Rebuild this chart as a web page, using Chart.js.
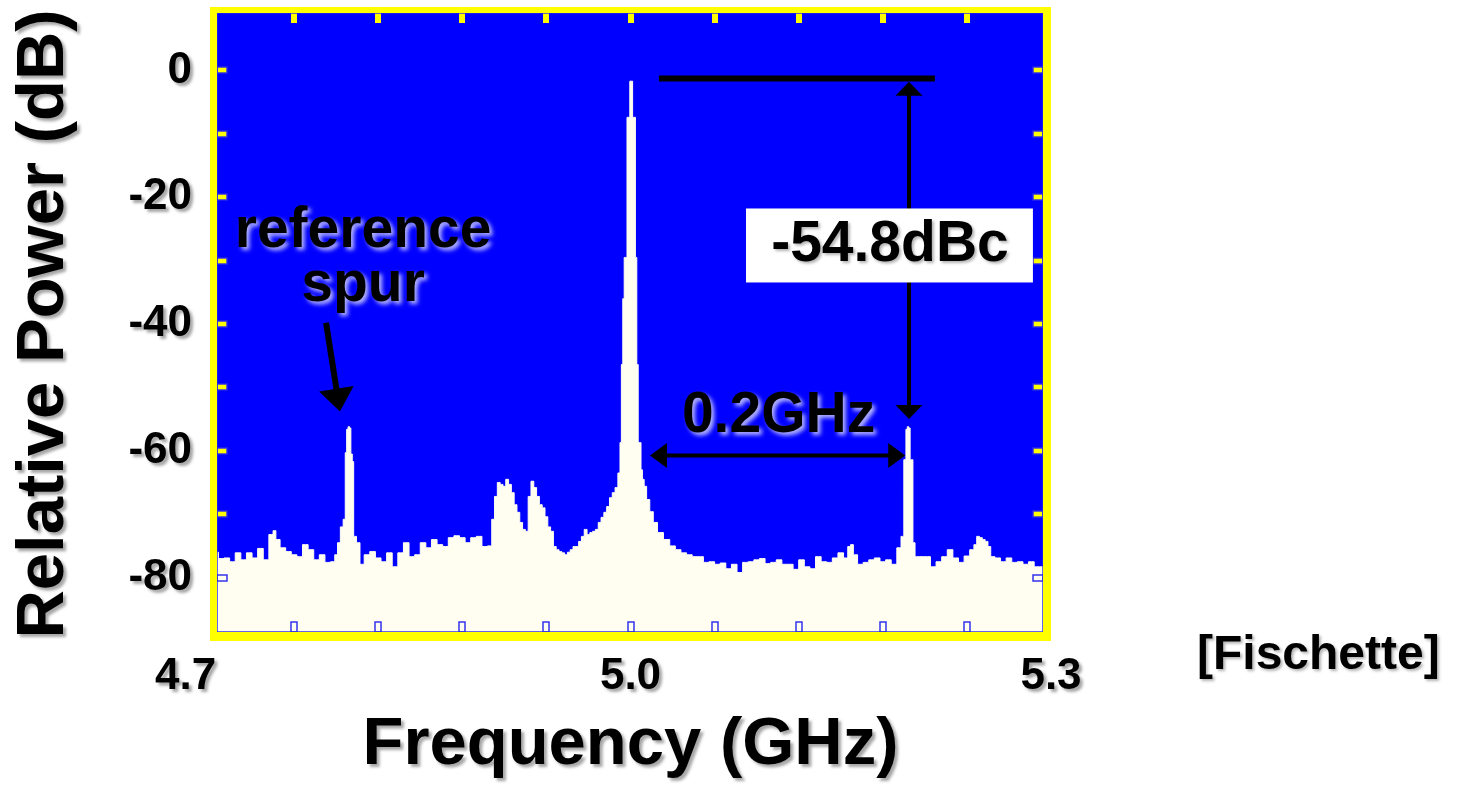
<!DOCTYPE html>
<html>
<head>
<meta charset="utf-8">
<script src="https://cdn.jsdelivr.net/npm/chart.js@4.4.1/dist/chart.umd.min.js"></script>
<style>
  html, body { margin: 0; padding: 0; background: #fff; }
  #spectrum { display: block; }
</style>
</head>
<body>
<canvas id="spectrum" width="1458" height="789"></canvas>
<script>
// spectrum trace
const freqGHz = [
  4.700, 4.704, 4.708, 4.712, 4.716, 4.720, 4.724, 4.728, 4.732, 4.736,
  4.740, 4.744, 4.746, 4.748, 4.752, 4.756, 4.760, 4.764, 4.768, 4.772,
  4.776, 4.780, 4.784, 4.788, 4.790, 4.792, 4.794, 4.796, 4.797, 4.798,
  4.799, 4.800, 4.801, 4.802, 4.803, 4.806, 4.808, 4.812, 4.816, 4.820,
  4.824, 4.828, 4.832, 4.836, 4.840, 4.844, 4.848, 4.852, 4.856, 4.860,
  4.864, 4.868, 4.872, 4.876, 4.880, 4.884, 4.888, 4.892, 4.896, 4.900,
  4.902, 4.904, 4.906, 4.908, 4.910, 4.912, 4.914, 4.916, 4.918, 4.920,
  4.922, 4.924, 4.926, 4.928, 4.930, 4.932, 4.934, 4.936, 4.938, 4.940,
  4.942, 4.944, 4.946, 4.948, 4.950, 4.952, 4.954, 4.956, 4.958, 4.960,
  4.962, 4.964, 4.966, 4.968, 4.970, 4.972, 4.974, 4.976, 4.978, 4.980,
  4.982, 4.984, 4.986, 4.988, 4.990, 4.992, 4.993, 4.994, 4.995, 4.996,
  4.997, 4.998, 4.999, 5.000, 5.001, 5.002, 5.003, 5.004, 5.005, 5.006,
  5.007, 5.008, 5.009, 5.0105, 5.0125, 5.015, 5.0175, 5.021, 5.026, 5.030,
  5.034, 5.038, 5.042, 5.046, 5.050, 5.054, 5.058, 5.062, 5.066, 5.070,
  5.074, 5.078, 5.082, 5.086, 5.090, 5.094, 5.098, 5.102, 5.106, 5.110,
  5.114, 5.118, 5.122, 5.126, 5.130, 5.134, 5.138, 5.142, 5.146, 5.150,
  5.154, 5.156, 5.158, 5.160, 5.164, 5.168, 5.172, 5.176, 5.180, 5.184,
  5.188, 5.192, 5.194, 5.196, 5.197, 5.198, 5.199, 5.200, 5.201, 5.202,
  5.204, 5.208, 5.212, 5.216, 5.220, 5.224, 5.228, 5.232, 5.236, 5.240,
  5.244, 5.246, 5.248, 5.250, 5.252, 5.254, 5.256, 5.258, 5.262, 5.266,
  5.270, 5.274, 5.278, 5.282, 5.286, 5.290, 5.294, 5.300
];
const powerDb = [
  -76.1, -76.0, -77.0, -76.9, -77.5, -76.1, -77.2, -76.1, -76.9, -75.4,
  -77.2, -73.2, -72.6, -74.0, -75.3, -75.9, -76.4, -76.7, -74.8, -75.6,
  -77.2, -76.4, -77.6, -77.5, -76.4, -74.5, -72.0, -70.8, -60.3, -56.6,
  -56.2, -56.4, -60.5, -61.7, -73.5, -74.5, -77.9, -76.4, -75.9, -76.9,
  -77.5, -76.1, -78.3, -76.1, -74.5, -76.7, -76.4, -74.5, -75.3, -74.0,
  -74.8, -75.1, -73.7, -73.4, -73.7, -74.5, -73.7, -73.5, -75.1, -75.0,
  -70.8, -67.2, -65.0, -65.3, -65.6, -64.5, -65.3, -66.6, -68.5, -69.7,
  -71.3, -72.4, -72.7, -67.2, -64.8, -65.8, -67.2, -68.5, -69.0, -70.4,
  -72.0, -72.7, -75.1, -75.6, -75.9, -76.1, -76.4, -76.0, -75.6, -75.1,
  -75.1, -74.3, -73.5, -72.4, -73.2, -72.9, -72.7, -72.4, -71.3, -70.5,
  -69.7, -68.8, -67.4, -66.6, -65.8, -63.5, -58.7, -46.4, -36.0, -29.5,
  -29.5, -7.4, -7.4, -1.7, -1.7, -7.4, -7.4, -29.5, -46.4, -58.7,
  -58.7, -63.0, -64.5, -65.6, -67.7, -69.6, -71.3, -72.9, -74.0, -75.0,
  -75.6, -76.1, -76.4, -76.7, -76.7, -77.6, -77.5, -77.9, -77.7, -78.6,
  -77.9, -79.2, -77.6, -77.5, -77.2, -77.0, -77.8, -77.6, -77.2, -77.9,
  -77.9, -78.7, -77.2, -78.3, -78.6, -76.7, -77.5, -77.6, -76.9, -76.1,
  -76.9, -75.1, -74.8, -76.4, -77.9, -77.6, -77.2, -76.9, -77.5, -77.2,
  -77.9, -75.3, -73.5, -61.4, -56.6, -56.2, -56.4, -61.4, -61.4, -74.5,
  -76.7, -76.7, -76.7, -78.3, -77.5, -76.7, -75.6, -76.9, -77.6, -76.6,
  -75.6, -74.8, -73.5, -73.7, -74.0, -74.3, -75.1, -76.7, -76.9, -77.5,
  -76.9, -77.6, -77.5, -77.9, -77.5, -78.3, -78.3, -78.3
];

// axis ticks
const xTicks = [4.70, 4.76, 4.82, 4.88, 4.94, 5.00, 5.06, 5.12, 5.18, 5.24, 5.30];
const xLabelled = [4.7, 5.0, 5.3];
const xTickLabels = ['4.7    ', '5.0', '5.3']; // trailing spaces nudge 4.7 left like the original
const yTicks = [-80, -60, -40, -20, 0];
const yMinorTicks = [0, -10, -20, -30, -40, -50, -60, -70, -80];

const FONT = "'Liberation Sans', Arial, sans-serif";

function arrowHead(ctx, x1, y1, x2, y2, len, wid) {
  const a = Math.atan2(y2 - y1, x2 - x1);
  ctx.beginPath();
  ctx.moveTo(x2, y2);
  ctx.lineTo(x2 - len * Math.cos(a) + wid / 2 * Math.sin(a), y2 - len * Math.sin(a) - wid / 2 * Math.cos(a));
  ctx.lineTo(x2 - len * Math.cos(a) - wid / 2 * Math.sin(a), y2 - len * Math.sin(a) + wid / 2 * Math.cos(a));
  ctx.closePath();
  ctx.fill();
}

function arrow(ctx, x1, y1, x2, y2, lw, len, wid, both) {
  const a = Math.atan2(y2 - y1, x2 - x1);
  ctx.lineWidth = lw;
  ctx.beginPath();
  ctx.moveTo(both ? x1 + Math.cos(a) * len * 0.8 : x1, both ? y1 + Math.sin(a) * len * 0.8 : y1);
  ctx.lineTo(x2 - Math.cos(a) * len * 0.8, y2 - Math.sin(a) * len * 0.8);
  ctx.stroke();
  arrowHead(ctx, x1, y1, x2, y2, len, wid);
  if (both) arrowHead(ctx, x2, y2, x1, y1, len, wid);
}

const framePlugin = {
  id: 'frame',
  beforeDraw(chart) {
    // soft grey drop shadow on axis text
    const ctx = chart.ctx;
    ctx.shadowColor = 'rgba(0,0,0,0.35)';
    ctx.shadowOffsetX = 3;
    ctx.shadowOffsetY = 3;
    ctx.shadowBlur = 3;
  },
  beforeDatasetsDraw(chart) {
    const ctx = chart.ctx, a = chart.chartArea;
    const xs = chart.scales.x, ys = chart.scales.y;
    ctx.shadowColor = 'transparent';
    ctx.shadowOffsetX = 0; ctx.shadowOffsetY = 0; ctx.shadowBlur = 0;
    ctx.fillStyle = '#0000fe';
    ctx.fillRect(a.left, a.top, a.width, a.height);
    const L = a.left + 7, R = a.right - 8, T = a.top + 6, B = a.bottom - 9;
    ctx.save();
    ctx.beginPath();
    ctx.rect(L, T, R - L, B - T);
    ctx.clip();
    ctx.fillStyle = '#ffff00';
    xTicks.forEach(v => {
      const px = Math.round(xs.getPixelForValue(v));
      ctx.fillRect(px - 3, T, 6, 10);
      ctx.fillRect(px - 3, B - 10, 6, 10);
    });
    yMinorTicks.forEach(v => {
      const py = Math.round(ys.getPixelForValue(v));
      ctx.fillRect(L, py - 3, 10, 6);
      ctx.fillRect(R - 10, py - 3, 10, 6);
    });
    ctx.restore();
  },
  afterDatasetsDraw(chart) {
    const ctx = chart.ctx, a = chart.chartArea;
    const xs = chart.scales.x, ys = chart.scales.y;
    const px = v => xs.getPixelForValue(v), py = v => ys.getPixelForValue(v);
    const L = a.left + 7, R = a.right - 8, T = a.top + 6, B = a.bottom - 9;
    ctx.save();
    // blue outline of inner frame edge and tick tabs (shows over the cream fill)
    ctx.strokeStyle = 'rgba(40,40,235,0.95)';
    ctx.lineWidth = 1.5;
    ctx.strokeRect(L, T, R - L, B - T);
    xTicks.forEach(v => {
      const x = Math.round(px(v));
      if (x <= L + 3 || x >= R - 3) return;
      ctx.strokeRect(x - 3, B - 10, 6, 10);
    });
    yMinorTicks.forEach(v => {
      const y = Math.round(py(v));
      ctx.strokeRect(L, y - 3, 10, 6);
      ctx.strokeRect(R - 10, y - 3, 10, 6);
    });
    // yellow frame
    ctx.fillStyle = '#ffff00';
    ctx.fillRect(a.left, a.top, a.width, T - a.top);
    ctx.fillRect(a.left, B, a.width, a.bottom - B);
    ctx.fillRect(a.left, a.top, L - a.left, a.height);
    ctx.fillRect(R, a.top, a.right - R, a.height);

    ctx.fillStyle = '#000';
    ctx.strokeStyle = '#000';
    ctx.lineCap = 'butt';

    // carrier reference level line
    ctx.lineWidth = 6;
    ctx.beginPath();
    ctx.moveTo(px(5.0203), py(-1.26));
    ctx.lineTo(px(5.2172), py(-1.26));
    ctx.stroke();

    // -54.8dBc vertical double arrow
    arrow(ctx, px(5.1987), py(-1.8), px(5.1987), py(-55.0), 4, 14, 27, true);

    // 0.2GHz horizontal double arrow
    arrow(ctx, px(5.0139), py(-60.75), px(5.1960), py(-60.75), 4, 17, 25, true);

    // reference spur arrow
    arrow(ctx, px(4.7828), py(-39.8), px(4.7927), py(-53.8), 6, 23, 35, false);

    // -54.8dBc label box
    ctx.fillStyle = '#ffffff';
    ctx.fillRect(px(5.0824), py(-21.78), px(5.2871) - px(5.0824), py(-33.45) - py(-21.78));

    ctx.font = 'bold 57px ' + FONT;
    ctx.textAlign = 'center';
    ctx.textBaseline = 'alphabetic';
    ctx.fillStyle = '#000';
    ctx.shadowColor = 'rgba(0,0,0,0.3)';
    ctx.shadowOffsetX = 2; ctx.shadowOffsetY = 2; ctx.shadowBlur = 3;
    ctx.fillText('-54.8dBc', px(5.1851), py(-30.1));

    ctx.shadowColor = 'rgba(225,225,255,0.8)';
    ctx.shadowOffsetX = 3; ctx.shadowOffsetY = 3; ctx.shadowBlur = 4;
    ctx.fillText('0.2GHz', px(5.1056), py(-57.1));
    ctx.fillText('reference', px(4.8092), py(-27.9));
    ctx.fillText('spur', px(4.8092), py(-36.45));
    ctx.restore();
  },
  afterDraw(chart) {
    const ctx = chart.ctx;
    ctx.save();
    ctx.font = 'bold 48px ' + FONT;
    ctx.fillStyle = '#000';
    ctx.textAlign = 'left';
    ctx.textBaseline = 'middle';
    ctx.shadowColor = 'rgba(0,0,0,0.3)';
    ctx.shadowOffsetX = 2; ctx.shadowOffsetY = 2; ctx.shadowBlur = 3;
    ctx.fillText('[Fischette]', 1197, 656);
    ctx.restore();
  }
};

new Chart(document.getElementById('spectrum'), {
  type: 'line',
  data: {
    datasets: [{
      data: freqGHz.map((f, i) => ({ x: f, y: powerDb[i] })),
      stepped: 'middle',
      fill: 'start',
      backgroundColor: '#fffef0',
      borderColor: '#fffef0',
      borderWidth: 1,
      pointRadius: 0
    }]
  },
  options: {
    responsive: false,
    animation: false,
    devicePixelRatio: 1,
    layout: { padding: { left: 0, right: 407, top: 7, bottom: 0 } },
    plugins: { legend: { display: false }, tooltip: { enabled: false } },
    scales: {
      x: {
        type: 'linear',
        min: 4.7,
        max: 5.3,
        afterBuildTicks: s => { s.ticks = xTicks.map(v => ({ value: v })); },
        afterFit: s => { s.height = 148; s.paddingLeft = 0; s.paddingRight = 0; },
        grid: { display: false, drawTicks: false },
        border: { display: false },
        ticks: {
          autoSkip: false,
          maxRotation: 0,
          padding: 9,
          color: '#000',
          font: { family: FONT, size: 44, weight: 'bold' },
          callback: v => {
            const i = xLabelled.findIndex(t => Math.abs(t - v) < 1e-6);
            return i >= 0 ? xTickLabels[i] : '';
          }
        },
        title: {
          display: true,
          text: 'Frequency (GHz)',
          color: '#000',
          font: { family: FONT, size: 67, weight: 'bold' },
          padding: { top: 0, bottom: 3 }
        }
      },
      y: {
        min: -90,
        max: 10,
        afterBuildTicks: s => { s.ticks = yTicks.map(v => ({ value: v })); },
        afterFit: s => { s.width = 210; s.paddingTop = 0; s.paddingBottom = 0; },
        grid: { display: false, drawTicks: false },
        border: { display: false },
        ticks: {
          padding: 18,
          color: '#000',
          font: { family: FONT, size: 44, weight: 'bold' },
          callback: v => String(v)
        },
        title: {
          display: true,
          text: 'Relative Power (dB)',
          color: '#000',
          font: { family: FONT, size: 67, weight: 'bold' },
          padding: { top: 4, bottom: 0 }
        }
      }
    }
  },
  plugins: [framePlugin]
});
</script>
</body>
</html>
